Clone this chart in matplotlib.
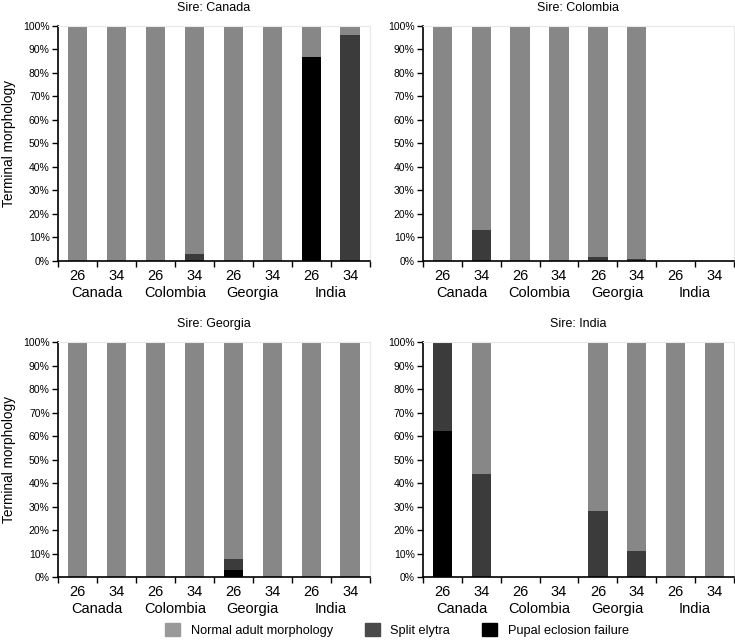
import matplotlib
matplotlib.use("Agg")
import matplotlib.pyplot as plt
from matplotlib.patches import Patch
import numpy as np

# offspring groups: dam population x rearing temperature
dams = ["Canada", "Colombia", "Georgia", "India"]
temps = ["26", "34", "26", "34", "26", "34", "26", "34"]

sires = ["Canada", "Colombia", "Georgia", "India"]

# percent of each outcome, per sire, per group (0 = no data)
pupal = {
    "Canada":   [0, 0, 0, 0, 0, 0, 87, 0],
    "Colombia": [0, 0, 0, 0, 0, 0, 0, 0],
    "Georgia":  [0, 0, 0, 0, 3, 0, 0, 0],
    "India":    [62, 0, 0, 0, 0, 0, 0, 0],
}
split = {
    "Canada":   [0, 0, 0, 3, 0, 0, 0, 96],
    "Colombia": [0, 13, 0, 0, 1.5, 1, 0, 0],
    "Georgia":  [0, 0, 0, 0, 4.7, 0, 0, 0],
    "India":    [38, 44, 0, 0, 28, 11, 0, 0],
}
normal = {
    "Canada":   [100, 100, 100, 97, 100, 100, 13, 4],
    "Colombia": [100, 87, 100, 100, 98.5, 99, 0, 0],
    "Georgia":  [100, 100, 100, 100, 92.3, 100, 100, 100],
    "India":    [0, 56, 0, 0, 72, 89, 100, 100],
}

c_normal = "#878787"
c_split = "#3b3b3b"
c_pupal = "#000000"

fig = plt.figure(figsize=(7.35, 6.42), dpi=100)
plt.rcParams['font.family'] = ['Liberation Sans', 'DejaVu Sans']

boxes = [
    [0.079, 0.5935, 0.424, 0.366],
    [0.5755, 0.5935, 0.423, 0.366],
    [0.079, 0.1012, 0.424, 0.366],
    [0.5755, 0.1012, 0.423, 0.366],
]

x = np.arange(len(temps))
for i, sire in enumerate(sires):
    ax = fig.add_axes(boxes[i])
    p = np.array(pupal[sire])
    s = np.array(split[sire])
    n = np.array(normal[sire])
    ax.bar(x, p, width=0.5, color=c_pupal)
    ax.bar(x, s, width=0.5, bottom=p, color=c_split)
    ax.bar(x, n, width=0.5, bottom=p + s, color=c_normal)

    ax.set_xlim(-0.5, 7.5)
    ax.set_ylim(0, 100)
    ax.set_yticks(np.arange(0, 101, 10))
    ax.set_yticklabels([f"{v}%" for v in range(0, 101, 10)], fontsize=7.5)
    ax.set_xticks(x)
    ax.set_xticklabels(temps, fontsize=10.5)
    ax.set_xticks(np.arange(-0.5, 8, 1), minor=True)
    ax.tick_params(axis="x", which="major", length=0, pad=6)
    ax.tick_params(axis="x", which="minor", length=4, width=1, direction="out")
    ax.tick_params(axis="y", length=4, width=1, direction="out", pad=2)
    for sp in ["left", "bottom"]:
        ax.spines[sp].set_linewidth(1.2)
    for sp in ["top", "right"]:
        ax.spines[sp].set_color("#e8e8e8")
        ax.spines[sp].set_linewidth(0.8)

    for j, dam in enumerate(dams):
        ax.text(2 * j + 0.5, -0.137, dam, transform=ax.get_xaxis_transform(),
                ha="center", va="center", fontsize=10.5)

    ax.set_title("Sire: " + sire, fontsize=9, pad=11)
    if i % 2 == 0:
        ax.set_ylabel("Terminal morphology", fontsize=9.8, labelpad=5)

handles = [Patch(color="#999999", label="Normal adult morphology"),
           Patch(color="#4a4a4a", label="Split elytra"),
           Patch(color=c_pupal, label="Pupal eclosion failure")]
fig.legend(handles=handles, loc="center", bbox_to_anchor=(0.54, 0.019), ncol=3,
           frameon=False, fontsize=9.2, handlelength=1.2, handleheight=1.2,
           columnspacing=2.5, handletextpad=0.8)

fig.savefig("out.png", dpi=100)
